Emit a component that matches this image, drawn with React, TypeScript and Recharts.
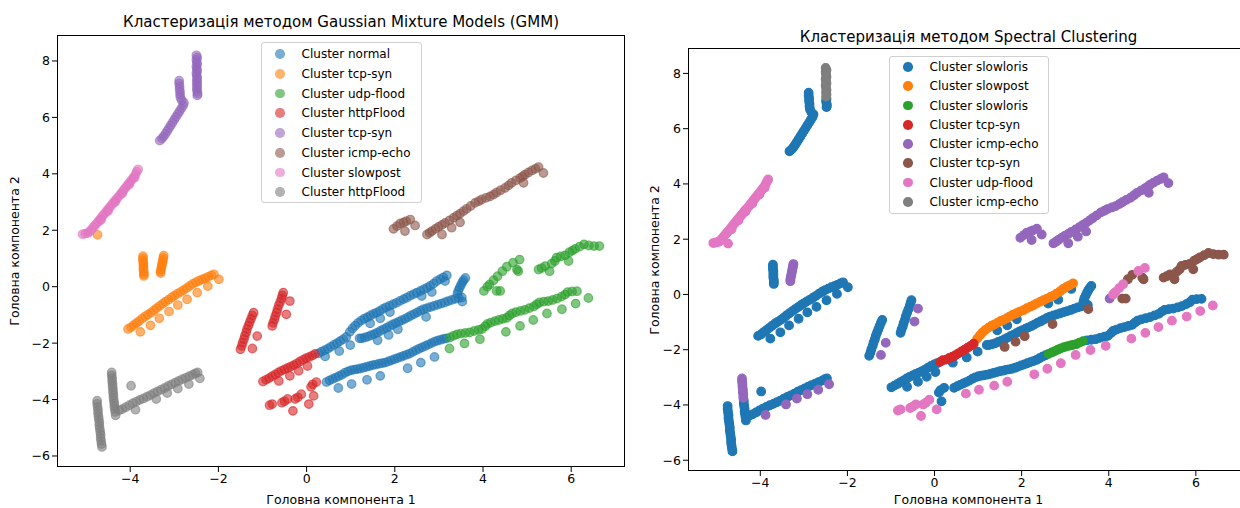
import { ScatterChart, Scatter, XAxis, YAxis } from "recharts";

type Pt = [number, number];

// --- point groups (same PCA points, coloured differently per method) ---
const purpleTop: Pt[] = [[-2.5, 8.2], [-2.48, 8.12], [-2.5, 8.04], [-2.49, 7.96], [-2.48, 7.88], [-2.5, 7.8], [-2.49, 7.72], [-2.48, 7.64], [-2.5, 7.56], [-2.49, 7.48], [-2.48, 7.4], [-2.49, 7.32], [-2.48, 7.24], [-2.49, 7.16]];
const purpleBottom: Pt[] = [[-2.48, 7.08], [-2.49, 7.0], [-2.48, 6.92], [-2.47, 6.84], [-2.48, 6.78]];
const purpleDiag: Pt[] = [[-2.89, 7.3], [-2.89, 7.2], [-2.88, 7.1], [-2.88, 7.0], [-2.87, 6.9], [-2.87, 6.8], [-2.86, 6.7], [-2.83, 6.6], [-2.78, 6.52], [-2.8, 6.42], [-2.84, 6.32], [-2.88, 6.22], [-2.92, 6.12], [-2.96, 6.02], [-3.0, 5.92], [-3.04, 5.82], [-3.08, 5.72], [-3.12, 5.62], [-3.16, 5.52], [-3.2, 5.42], [-3.24, 5.33], [-3.28, 5.25], [-3.33, 5.18]];
const pinkDiag: Pt[] = [[-5.08, 1.86], [-5.02, 1.88], [-4.96, 1.9], [-4.92, 1.95], [-4.88, 2.02], [-4.84, 2.1], [-4.8, 2.17], [-4.76, 2.24], [-4.72, 2.32], [-4.68, 2.4], [-4.64, 2.48], [-4.6, 2.56], [-4.56, 2.63], [-4.52, 2.71], [-4.48, 2.79], [-4.44, 2.86], [-4.4, 2.94], [-4.36, 3.02], [-4.32, 3.09], [-4.28, 3.16], [-4.24, 3.24], [-4.2, 3.32], [-4.16, 3.4], [-4.12, 3.48], [-4.08, 3.56], [-4.04, 3.64], [-4.0, 3.72], [-3.96, 3.8], [-3.92, 3.88], [-3.88, 3.98], [-3.85, 4.08], [-3.82, 4.16], [-4.66, 2.36], [-4.5, 2.68], [-4.34, 3.0], [-4.18, 3.3], [-4.02, 3.62], [-3.9, 3.86]];
const orangeDot: Pt[] = [[-4.74, 1.84]];
const orangeStrip1: Pt[] = [[-3.71, 1.08], [-3.71, 1.0], [-3.71, 0.92], [-3.7, 0.84], [-3.7, 0.76], [-3.7, 0.68], [-3.7, 0.6], [-3.69, 0.52], [-3.69, 0.44], [-3.69, 0.38]];
const orangeStrip2: Pt[] = [[-3.24, 1.1], [-3.25, 1.02], [-3.26, 0.94], [-3.27, 0.86], [-3.28, 0.78], [-3.29, 0.7], [-3.3, 0.62], [-3.31, 0.54], [-3.31, 0.48]];
const orangeDiag: Pt[] = [[-4.05, -1.5], [-3.98, -1.44], [-3.92, -1.36], [-3.86, -1.29], [-3.8, -1.22], [-3.73, -1.13], [-3.66, -1.05], [-3.6, -0.99], [-3.53, -0.92], [-3.46, -0.84], [-3.4, -0.76], [-3.33, -0.68], [-3.26, -0.6], [-3.2, -0.53], [-3.13, -0.46], [-3.06, -0.38], [-3.0, -0.32], [-2.93, -0.25], [-2.86, -0.19], [-2.79, -0.12], [-2.72, -0.05], [-2.65, 0.03], [-2.58, 0.1], [-2.51, 0.16], [-2.44, 0.21], [-2.37, 0.26], [-2.3, 0.3], [-2.23, 0.35], [-2.16, 0.4], [-2.1, 0.44]];
const orangeDiagOff: Pt[] = [[-3.77, -1.6], [-3.54, -1.37], [-3.34, -1.12], [-3.12, -0.88], [-2.92, -0.65], [-2.71, -0.45], [-2.48, -0.21], [-2.24, 0.02], [-1.99, 0.26]];
const grayStrip1: Pt[] = [[-4.75, -4.04], [-4.75, -4.15], [-4.74, -4.26], [-4.73, -4.37], [-4.73, -4.48], [-4.72, -4.59], [-4.71, -4.7], [-4.7, -4.81], [-4.7, -4.92], [-4.69, -5.03], [-4.68, -5.14], [-4.67, -5.25], [-4.67, -5.36], [-4.66, -5.47], [-4.65, -5.58], [-4.64, -5.68]];
const grayStrip2Top: Pt[] = [[-4.42, -3.04], [-4.42, -3.14], [-4.41, -3.24], [-4.41, -3.34], [-4.4, -3.44], [-4.4, -3.54], [-4.39, -3.64], [-4.39, -3.74]];
const grayStrip2Bot: Pt[] = [[-4.38, -3.84], [-4.38, -3.94], [-4.37, -4.04], [-4.36, -4.14], [-4.36, -4.24], [-4.35, -4.34], [-4.34, -4.44], [-4.33, -4.56]];
const grayDiag: Pt[] = [[-3.98, -3.51], [-4.25, -4.38], [-4.18, -4.34], [-4.1, -4.27], [-4.02, -4.2], [-3.94, -4.13], [-3.86, -4.07], [-3.78, -4.01], [-3.7, -3.96], [-3.62, -3.9], [-3.54, -3.84], [-3.46, -3.77], [-3.38, -3.71], [-3.3, -3.65], [-3.22, -3.59], [-3.14, -3.52], [-3.06, -3.46], [-2.98, -3.4], [-2.9, -3.34], [-2.82, -3.28], [-2.74, -3.23], [-2.66, -3.17], [-2.58, -3.12], [-2.52, -3.07], [-2.47, -3.04]];
const grayDiagOff: Pt[] = [[-3.88, -4.36], [-3.41, -3.98], [-3.16, -3.77], [-2.92, -3.61], [-2.67, -3.45], [-2.42, -3.25]];
const redStrips: Pt[] = [[-1.5, -2.22], [-1.47, -2.1], [-1.45, -1.98], [-1.42, -1.86], [-1.4, -1.74], [-1.37, -1.62], [-1.35, -1.5], [-1.32, -1.38], [-1.29, -1.26], [-1.26, -1.14], [-1.23, -1.02], [-1.2, -0.92], [-0.78, -1.39], [-0.76, -1.28], [-0.73, -1.16], [-0.71, -1.04], [-0.68, -0.92], [-0.66, -0.8], [-0.63, -0.66], [-0.6, -0.54], [-0.57, -0.42], [-0.55, -0.31], [-0.53, -0.21]];
const redStripOff: Pt[] = [[-1.12, -1.75], [-1.23, -2.19], [-0.38, -0.51], [-0.46, -0.98]];
const redDiag: Pt[] = [[-0.99, -3.36], [-0.92, -3.3], [-0.85, -3.24], [-0.78, -3.17], [-0.71, -3.11], [-0.64, -3.04], [-0.57, -2.98], [-0.5, -2.93], [-0.43, -2.88], [-0.36, -2.83], [-0.29, -2.78], [-0.22, -2.72], [-0.15, -2.65], [-0.08, -2.59], [-0.01, -2.53], [0.06, -2.49], [-0.63, -3.34], [-0.38, -3.16], [-0.18, -2.98], [0.02, -2.81]];
const redDiagTip: Pt[] = [[0.13, -2.44], [0.19, -2.38]];
const redLow: Pt[] = [[-0.84, -4.2], [-0.78, -4.16], [-0.56, -4.11], [-0.5, -4.06], [-0.43, -3.98], [-0.26, -3.98], [-0.2, -3.92], [-0.12, -3.81], [-0.31, -4.4], [0.05, -4.16]];
const redLowBlue: Pt[] = [[0.1, -3.55], [0.14, -3.46], [0.22, -3.38], [0.16, -3.87]];
const uMainRed: Pt[] = [[0.27, -2.36], [0.34, -2.3], [0.41, -2.25], [0.48, -2.2], [0.55, -2.13], [0.62, -2.06], [0.69, -2.0], [0.76, -1.93], [0.83, -1.86], [0.9, -1.78]];
const uMainOrange: Pt[] = [[0.98, -1.6], [1.04, -1.48], [1.1, -1.38], [1.17, -1.28], [1.24, -1.2], [1.31, -1.13], [1.38, -1.08], [1.45, -1.02], [1.52, -0.96], [1.59, -0.92], [1.66, -0.86], [1.73, -0.79], [1.8, -0.73], [1.88, -0.68], [1.96, -0.62], [2.04, -0.57], [2.12, -0.5], [2.2, -0.44], [2.27, -0.39], [2.35, -0.32], [2.43, -0.26], [2.5, -0.21], [2.58, -0.15], [2.66, -0.09], [2.73, -0.04], [2.8, 0.03], [2.88, 0.11], [2.95, 0.2], [3.03, 0.27], [3.1, 0.33], [3.18, 0.4]];
const uOffsets: Pt[] = [[0.42, -2.47], [0.74, -2.28], [0.99, -2.07], [1.2, -1.83], [1.44, -1.3], [1.67, -1.12], [1.89, -0.9], [2.61, -0.33], [2.84, -0.19], [3.14, 0.2]];
const mMain: Pt[] = [[1.25, -1.83], [1.32, -1.8], [1.39, -1.77], [1.46, -1.72], [1.53, -1.68], [1.6, -1.63], [1.67, -1.57], [1.74, -1.51], [1.81, -1.46], [1.88, -1.4], [1.95, -1.34], [2.02, -1.29], [2.09, -1.24], [2.16, -1.19], [2.23, -1.14], [2.3, -1.08], [2.37, -1.02], [2.44, -0.97], [2.51, -0.91], [2.58, -0.85], [2.65, -0.8], [2.73, -0.76], [2.81, -0.72], [2.89, -0.68], [2.97, -0.64], [3.05, -0.6], [3.13, -0.56], [3.21, -0.51], [3.29, -0.47], [3.37, -0.43], [3.45, -0.4], [3.52, -0.38], [3.42, -0.25], [3.44, -0.14], [3.47, -0.04], [3.5, 0.06], [3.53, 0.15], [3.56, 0.23], [3.6, 0.31]];
const mOffsets: Pt[] = [[1.61, -1.9], [1.86, -1.71], [2.07, -1.51], [2.71, -1.07], [3.53, -0.53]];
const lMain: Pt[] = [[0.45, -3.38], [0.52, -3.32], [0.59, -3.27], [0.66, -3.22], [0.73, -3.17], [0.8, -3.12], [0.87, -3.05], [0.94, -3.0], [1.01, -2.96], [1.08, -2.94], [1.15, -2.92], [1.22, -2.9], [1.29, -2.87], [1.36, -2.84], [1.43, -2.81], [1.5, -2.78], [1.57, -2.76], [1.64, -2.73], [1.71, -2.71], [1.78, -2.69], [1.85, -2.65], [1.92, -2.61], [1.99, -2.57], [2.06, -2.53], [2.13, -2.49], [2.2, -2.45], [2.27, -2.41], [2.34, -2.37], [2.41, -2.31], [2.48, -2.25], [2.55, -2.2]];
const lMainGreen: Pt[] = [[2.62, -2.15], [2.69, -2.1], [2.76, -2.05], [2.83, -2.0], [2.9, -1.95], [2.97, -1.91], [3.04, -1.88], [3.11, -1.85], [3.17, -1.83]];
const lOffsets: Pt[] = [[0.72, -3.59], [1.02, -3.45], [1.37, -3.3], [1.67, -3.16], [2.29, -2.89], [2.59, -2.69], [2.9, -2.49]];
const greenLowA: Pt[] = [[3.25, -1.8], [3.33, -1.74], [3.41, -1.69]];
const greenLowB: Pt[] = [[3.5, -1.66], [3.6, -1.64], [3.7, -1.62], [3.8, -1.57], [3.9, -1.53], [3.98, -1.5], [4.05, -1.4], [4.1, -1.32], [4.18, -1.27], [4.27, -1.22], [4.36, -1.18], [4.45, -1.14], [4.54, -1.1], [4.6, -1.02], [4.66, -0.95], [4.75, -0.9], [4.85, -0.86], [4.95, -0.82], [5.05, -0.76], [5.15, -0.7], [5.22, -0.62], [5.28, -0.56], [5.38, -0.53], [5.48, -0.51], [5.58, -0.47], [5.68, -0.42], [5.78, -0.35], [5.86, -0.28], [5.92, -0.19], [6.02, -0.17], [6.13, -0.16]];
const greenLowOff: Pt[] = [[3.24, -2.19], [3.58, -2.01], [3.93, -1.86], [4.52, -1.6], [4.84, -1.39], [5.14, -1.18], [5.45, -0.95], [5.79, -0.8], [6.1, -0.6], [6.39, -0.4]];
const greenUpPurple: Pt[] = [[4.02, -0.15]];
const greenUpBrown: Pt[] = [[4.31, -0.15], [4.39, -0.15], [4.44, 0.55], [4.54, 0.71], [4.77, 0.61], [4.8, 0.55], [5.26, 0.61], [5.33, 0.66], [5.41, 0.73], [5.51, 0.55], [5.56, 0.82], [5.63, 0.91], [5.67, 1.03], [5.76, 1.07], [5.86, 1.11], [5.94, 0.91], [5.96, 1.22], [6.03, 1.28], [6.09, 1.34], [6.19, 1.42], [6.29, 1.5], [6.4, 1.46], [6.52, 1.44], [6.64, 1.44]];
const greenUpPink: Pt[] = [[4.1, 0.0], [4.15, 0.08], [4.24, 0.23], [4.33, 0.37], [4.68, 0.85], [4.83, 0.96]];
const brownLine: Pt[] = [[1.97, 2.05], [2.05, 2.15], [2.12, 2.24], [2.2, 2.28], [2.26, 2.32], [2.35, 2.38], [2.23, 1.97], [2.46, 2.17], [2.73, 1.85], [2.79, 1.91], [2.84, 1.97], [2.92, 2.05], [2.99, 2.12], [3.07, 2.19], [3.14, 2.26], [3.24, 2.35], [3.33, 2.44], [3.41, 2.52], [3.48, 2.59], [3.56, 2.68], [3.63, 2.76], [3.72, 2.86], [3.82, 2.97], [3.9, 3.03], [3.97, 3.09], [4.07, 3.15], [4.16, 3.2], [4.24, 3.27], [4.31, 3.34], [4.4, 3.42], [4.5, 3.5], [4.58, 3.59], [4.65, 3.68], [4.75, 3.77], [4.84, 3.85], [4.9, 3.91], [4.95, 3.97], [5.03, 4.05], [5.11, 4.12], [5.19, 4.18], [5.26, 4.24], [3.07, 1.85], [3.29, 2.09], [3.48, 2.28], [4.92, 3.68], [5.37, 4.03]];

const colors = ["#1f77b4", "#ff7f0e", "#2ca02c", "#d62728", "#9467bd", "#8c564b", "#e377c2", "#7f7f7f"];

const gmmLabels = ["normal", "tcp-syn", "udp-flood", "httpFlood", "tcp-syn", "icmp-echo", "slowpost", "httpFlood"];
const gmmGroups: Pt[][][] = [
  [uMainRed, uMainOrange, uOffsets, mMain, mOffsets, lMain, lMainGreen, lOffsets],
  [orangeDot, orangeStrip1, orangeStrip2, orangeDiag, orangeDiagOff],
  [greenLowA, greenLowB, greenLowOff, greenUpPurple, greenUpBrown, greenUpPink],
  [redStrips, redStripOff, redDiag, redDiagTip, redLow, redLowBlue],
  [purpleTop, purpleBottom, purpleDiag],
  [brownLine],
  [pinkDiag],
  [grayStrip1, grayStrip2Top, grayStrip2Bot, grayDiag, grayDiagOff],
];

const spectralLabels = ["slowloris", "slowpost", "slowloris", "tcp-syn", "icmp-echo", "tcp-syn", "udp-flood", "icmp-echo"];
const spectralGroups: Pt[][][] = [
  [purpleBottom, purpleDiag, orangeStrip1, orangeDiag, orangeDiagOff, grayStrip1, grayStrip2Bot, grayDiag, redStrips, redDiag, redLowBlue, uOffsets, mMain, lMain, greenLowB],
  [uMainOrange],
  [lMainGreen, greenLowA],
  [redDiagTip, uMainRed],
  [orangeStrip2, grayStrip2Top, grayDiagOff, redStripOff, brownLine, greenUpPurple],
  [mOffsets, greenUpBrown],
  [pinkDiag, orangeDot, redLow, lOffsets, greenLowOff, greenUpPink],
  [purpleTop],
];

const xTicks = [-4, -2, 0, 2, 4, 6];
const yTicks = [-6, -4, -2, 0, 2, 4, 6, 8];

const FONT = "'DejaVu Sans', sans-serif";
const minus = (v: number) => String(v).replace("-", "\u2212");
const toPts = (groups: Pt[][]) => groups.flat().map(([x, y]) => ({ x, y }));

// matplotlib-like marker: face plus a thin edge of the same colour
const dot = (color: string, opacity: number) => (p: any) => (
  <circle cx={p.cx} cy={p.cy} r={4.3} fill={color} fillOpacity={opacity}
    stroke={color} strokeOpacity={opacity} strokeWidth={1.2} />
);

type PanelProps = {
  left: number;
  labels: string[];
  groups: Pt[][][];
  opacity: number;
  margin: { top: number; right: number; bottom: number; left: number };
  yWidth: number;
  title: string;
  titleTop: number;
  yLabelX: number;
  legend: { left: number; top: number; width: number; height: number; first: number; step: number };
};

const Panel = ({ left, labels, groups, opacity, margin, yWidth, title, titleTop, yLabelX, legend }: PanelProps) => {
  const W = 640;
  const H = 508;
  const plotLeft = margin.left + yWidth;
  const plotW = W - plotLeft - margin.right;
  const plotH = H - margin.top - margin.bottom - 30;
  const cx = plotLeft + plotW / 2;
  const cy = margin.top + plotH / 2;
  return (
    <div style={{ position: "absolute", left, top: 0, width: W, height: H, fontFamily: FONT }}>
      <ScatterChart width={W} height={H} margin={margin}>
        <XAxis type="number" dataKey="x" domain={[-5.66, 7.22]} ticks={xTicks} allowDataOverflow
          axisLine={false} tickSize={5} tickLine={{ stroke: "#000" }} height={30}
          tick={{ fill: "#000", fontSize: 12.5, fontFamily: FONT }} tickFormatter={minus} />
        <YAxis type="number" dataKey="y" domain={[-6.39, 8.92]} ticks={yTicks} allowDataOverflow
          axisLine={false} tickSize={5} tickLine={{ stroke: "#000" }} width={yWidth}
          tick={{ fill: "#000", fontSize: 12.5, fontFamily: FONT }} tickFormatter={minus} />
        {groups.map((g, i) => (
          <Scatter key={i} name={labels[i]} data={toPts(g)} shape={dot(colors[i], opacity)} isAnimationActive={false} />
        ))}
      </ScatterChart>
      <div style={{ position: "absolute", left: plotLeft, top: margin.top, width: plotW, height: plotH, border: "1px solid #000", boxSizing: "border-box", pointerEvents: "none" }} />
      <div style={{ position: "absolute", left: cx - 300, width: 600, top: titleTop, textAlign: "center", fontSize: 15, color: "#000" }}>{title}</div>
      <div style={{ position: "absolute", left: cx - 150, width: 300, top: 492, textAlign: "center", fontSize: 12.5, color: "#000" }}>Головна компонента 1</div>
      <div style={{ position: "absolute", left: yLabelX - 150, top: cy - 9, width: 300, height: 18, lineHeight: "18px", textAlign: "center", fontSize: 12.5, color: "#000", transform: "rotate(-90deg)" }}>Головна компонента 2</div>
      <div style={{ position: "absolute", left: legend.left - left, top: legend.top, width: legend.width, height: legend.height, border: "1px solid #d0d0d0", borderRadius: 3, background: "rgba(255,255,255,0.8)", boxSizing: "border-box" }}>
        {labels.map((l, i) => (
          <div key={i} style={{ position: "absolute", left: 0, top: legend.first + i * legend.step - 9.5, height: 19, display: "flex", alignItems: "center", fontSize: 12, color: "#000", whiteSpace: "nowrap" }}>
            <span style={{ display: "inline-block", width: 9.6, height: 9.6, borderRadius: "50%", background: colors[i], opacity, marginLeft: 13, marginRight: 17 }} />
            Cluster {l}
          </div>
        ))}
      </div>
    </div>
  );
};

export default function App() {
  return (
    <div style={{ position: "absolute", left: 0, top: 0, width: 1240, height: 508, overflow: "hidden", background: "#fff" }}>
      <Panel left={0} labels={gmmLabels} groups={gmmGroups} opacity={0.6}
        margin={{ top: 35, right: 15, bottom: 11, left: 0 }} yWidth={57}
        title="Кластеризація методом Gaussian Mixture Models (GMM)" titleTop={13} yLabelX={15}
        legend={{ left: 261, top: 42, width: 161, height: 161, first: 11, step: 19.75 }} />
      <Panel left={632} labels={spectralLabels} groups={spectralGroups} opacity={1}
        margin={{ top: 48, right: 23, bottom: 7, left: 0 }} yWidth={56}
        title="Кластеризація методом Spectral Clustering" titleTop={28} yLabelX={23}
        legend={{ left: 889, top: 56, width: 160, height: 158, first: 10, step: 19.25 }} />
    </div>
  );
}
